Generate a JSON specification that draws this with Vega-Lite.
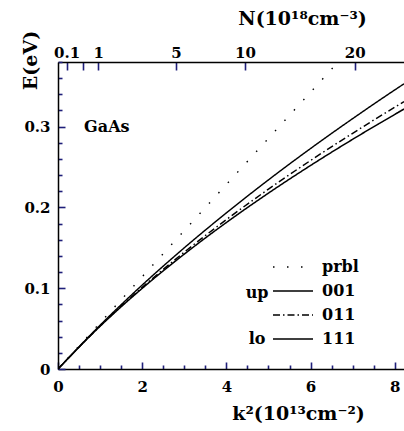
{
  "$schema": "https://vega.github.io/schema/vega-lite/v6.json",
  "width": 346,
  "height": 307,
  "autosize": "none",
  "padding": {"left": 58, "top": 62, "right": 0, "bottom": 62},
  "background": "white",
  "config": {
    "view": {"stroke": null},
    "font": "DejaVu Serif",
    "axis": {
      "grid": false,
      "domainColor": "black",
      "domainWidth": 1.5,
      "labelColor": "black",
      "titleColor": "black",
      "labelFont": "DejaVu Serif",
      "labelFontWeight": "bold",
      "labelFontSize": 15,
      "titleFont": "DejaVu Serif",
      "titleFontWeight": "bold",
      "titleFontSize": 19
    }
  },
  "datasets": {
    "curves": [
      {"series": "prbl", "k2": 0, "E": 0},
      {"series": "prbl", "k2": 2, "E": 0.1142},
      {"series": "prbl", "k2": 4, "E": 0.2284},
      {"series": "prbl", "k2": 6, "E": 0.3426},
      {"series": "prbl", "k2": 7, "E": 0.3997},
      {"series": "001", "k2": 0, "E": 0},
      {"series": "001", "k2": 1, "E": 0.0542},
      {"series": "001", "k2": 2, "E": 0.1039},
      {"series": "001", "k2": 3, "E": 0.15},
      {"series": "001", "k2": 4, "E": 0.1932},
      {"series": "001", "k2": 5, "E": 0.2341},
      {"series": "001", "k2": 6, "E": 0.2729},
      {"series": "001", "k2": 7, "E": 0.3099},
      {"series": "001", "k2": 8, "E": 0.3454},
      {"series": "001", "k2": 8.22, "E": 0.353},
      {"series": "011", "k2": 0, "E": 0},
      {"series": "011", "k2": 1, "E": 0.0533},
      {"series": "011", "k2": 2, "E": 0.101},
      {"series": "011", "k2": 3, "E": 0.1446},
      {"series": "011", "k2": 4, "E": 0.1849},
      {"series": "011", "k2": 5, "E": 0.2226},
      {"series": "011", "k2": 6, "E": 0.2581},
      {"series": "011", "k2": 7, "E": 0.2918},
      {"series": "011", "k2": 8, "E": 0.324},
      {"series": "011", "k2": 8.22, "E": 0.3309},
      {"series": "111", "k2": 0, "E": 0},
      {"series": "111", "k2": 1, "E": 0.0529},
      {"series": "111", "k2": 2, "E": 0.0998},
      {"series": "111", "k2": 3, "E": 0.1422},
      {"series": "111", "k2": 4, "E": 0.1813},
      {"series": "111", "k2": 5, "E": 0.2177},
      {"series": "111", "k2": 6, "E": 0.2519},
      {"series": "111", "k2": 7, "E": 0.2843},
      {"series": "111", "k2": 8, "E": 0.3151},
      {"series": "111", "k2": 8.22, "E": 0.3218}
    ],
    "notes": [
      {"t": "GaAs", "k2": 1.16, "E": 0.3},
      {"t": "up", "k2": 4.73, "E": 0.094},
      {"t": "lo", "k2": 4.73, "E": 0.037}
    ]
  },
  "layer": [
    {
      "data": {"name": "curves"},
      "mark": {"type": "line", "color": "black", "clip": true, "interpolate": "monotone"},
      "encoding": {
        "x": {
          "field": "k2", "type": "quantitative",
          "scale": {"domain": [0, 8.22], "nice": false, "zero": false},
          "axis": {
            "orient": "bottom",
            "values": [0, 0.5, 1, 1.5, 2, 2.5, 3, 3.5, 4, 4.5, 5, 5.5, 6, 6.5, 7, 7.5, 8],
            "labelExpr": "datum.value % 2 === 0 ? format(datum.value, 'd') : ''",
            "tickColor": "#1f1f7a",
            "tickSize": {"condition": {"test": "datum.value % 2 === 0", "value": -7}, "value": -4},
            "tickWidth": 1.6,
            "labelPadding": 17,
            "labelFlush": false,
            "title": "k²(10¹³cm⁻²)",
            "titleX": 240,
            "titleY": 44,
            "titleAlign": "center",
            "titleBaseline": "middle"
          }
        },
        "y": {
          "field": "E", "type": "quantitative",
          "scale": {"domain": [0, 0.38], "nice": false, "zero": false},
          "axis": {
            "orient": "left",
            "values": [0, 0.02, 0.04, 0.06, 0.08, 0.1, 0.12, 0.14, 0.16, 0.18, 0.2, 0.22, 0.24, 0.26, 0.28, 0.3, 0.32, 0.34, 0.36, 0.38],
            "labelExpr": "abs(datum.value*10 - round(datum.value*10)) < 0.001 ? (datum.value === 0 ? '0' : format(datum.value, '.1f')) : ''",
            "tickSize": {"condition": {"test": "abs(datum.value*10 - round(datum.value*10)) < 0.001", "value": -7}, "value": -4},
            "tickColor": "#1f1f7a",
            "tickWidth": 1.6,
            "labelPadding": 15,
            "labelFlush": false,
            "title": "E(eV)",
            "titleAngle": 270,
            "titleX": -28,
            "titleY": -2,
            "titleAlign": "center",
            "titleBaseline": "middle"
          }
        },
        "strokeDash": {
          "field": "series", "type": "nominal",
          "scale": {"domain": ["prbl", "001", "011", "111"], "range": [[1.5, 12.5], [1, 0], [7, 3, 1.5, 3], [1, 0]]},
          "legend": {
            "orient": "none",
            "legendX": 214,
            "legendY": 195,
            "title": null,
            "padding": 0,
            "symbolType": "stroke",
            "symbolSize": 1600,
            "symbolStrokeColor": "black",
            "labelFont": "DejaVu Serif",
            "labelFontWeight": "bold",
            "labelFontSize": 16,
            "labelColor": "black",
            "labelOffset": 8,
            "clipHeight": 20,
            "rowPadding": 4
          }
        },
        "strokeWidth": {
          "field": "series", "type": "nominal",
          "scale": {"domain": ["prbl", "001", "011", "111"], "range": [1.4, 1.5, 1.5, 2.6]}
        }
      }
    },
    {
      "data": {"name": "notes"},
      "mark": {"type": "text", "color": "black", "font": "DejaVu Serif", "fontWeight": "bold", "fontSize": 16, "align": "center", "baseline": "middle"},
      "encoding": {
        "text": {"field": "t", "type": "nominal"},
        "x": {
          "field": "k2", "type": "quantitative",
          "axis": {
            "orient": "top",
            "values": [0.206, 0.602, 0.956, 2.8, 4.44, 7.05],
            "labelExpr": "datum.value < 0.3 ? '0.1' : datum.value < 0.7 ? '' : datum.value < 1.5 ? '1' : datum.value < 3.5 ? '5' : datum.value < 6 ? '10' : '20'",
            "tickColor": "#1f1f7a",
            "tickWidth": 1.6,
            "tickSize": -8,
            "labelPadding": 10,
            "labelFlush": false,
            "title": "N(10¹⁸cm⁻³)",
            "titleX": 244,
            "titleY": -44,
            "titleAlign": "center",
            "titleBaseline": "middle"
          }
        },
        "y": {"field": "E", "type": "quantitative", "axis": null}
      }
    }
  ],
  "resolve": {"axis": {"x": "independent", "y": "independent"}}
}
